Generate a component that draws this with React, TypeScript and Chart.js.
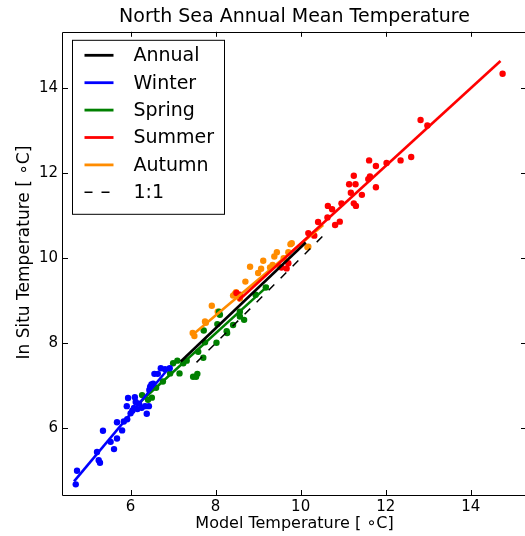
import React, { useEffect, useRef } from "react";
import { Chart, registerables } from "chart.js";

Chart.register(...registerables);

const TITLE = "North Sea Annual Mean Temperature";
const X_LABEL = "Model Temperature [ ∘C]";
const Y_LABEL = "    In Situ Temperature [ ∘C]";
const X_MIN = 4.41;
const X_MAX = 15.3;
const Y_MIN = 4.43;
const Y_MAX = 15.325;
const TICK_VALUES = [6, 8, 10, 12, 14];

const winterPts: number[][] = [
  [4.71, 4.68], [4.74, 5.0], [5.21, 5.44], [5.25, 5.25], [5.28, 5.19], [5.35, 5.94],
  [5.53, 5.68], [5.61, 5.51], [5.68, 5.76], [5.68, 6.14], [5.8, 5.95], [5.84, 6.16],
  [5.92, 6.21], [5.91, 6.52], [5.94, 6.71], [6.0, 6.35], [6.04, 6.41], [6.08, 6.48],
  [6.12, 6.62], [6.16, 6.45], [6.26, 6.48], [6.34, 6.52], [6.43, 6.52], [6.38, 6.34],
  [6.46, 6.98], [6.49, 7.03], [6.44, 6.9], [6.56, 7.28], [6.64, 7.28], [6.71, 7.41],
  [6.81, 7.39], [6.92, 7.41], [6.53, 7.05], [6.1, 6.73], [6.2, 6.58],
];
const springPts: number[][] = [
  [6.27, 6.78], [6.41, 6.67], [6.5, 6.72], [6.76, 7.1], [6.93, 7.29], [7.0, 7.53],
  [7.1, 7.59], [7.15, 7.29], [7.24, 7.53], [7.32, 7.59], [7.47, 7.21], [7.57, 7.28],
  [7.54, 7.21], [7.71, 7.66], [7.59, 7.8], [7.72, 8.3], [7.75, 8.02], [8.02, 8.01],
  [8.04, 8.45], [8.08, 8.74], [8.1, 8.67], [8.27, 8.24], [8.26, 8.28], [8.41, 8.43],
  [8.57, 8.74], [8.57, 8.63], [8.67, 8.55], [8.94, 9.14], [9.18, 9.31], [6.6, 6.95],
];
const summerPts: number[][] = [
  [8.49, 9.18], [8.57, 9.14], [9.55, 9.78], [9.67, 9.76], [9.71, 9.88], [10.18, 10.59],
  [10.32, 10.53], [10.41, 10.85], [10.63, 10.96], [10.64, 11.23], [10.74, 11.15],
  [10.81, 10.78], [10.92, 10.86], [10.96, 11.29], [11.25, 11.94], [11.14, 11.74],
  [11.29, 11.74], [11.18, 11.54], [11.25, 11.29], [11.3, 11.23], [11.44, 11.49],
  [11.59, 11.86], [11.63, 11.92], [11.61, 12.3], [11.77, 11.67], [11.77, 12.17],
  [12.02, 12.24], [12.35, 12.3], [12.6, 12.38], [12.82, 13.25], [12.98, 13.12], [14.75, 14.34],
];
const autumnPts: number[][] = [
  [7.46, 8.24], [7.5, 8.17], [7.75, 8.51], [7.77, 8.48], [7.91, 8.88], [8.05, 8.74],
  [8.41, 9.12], [8.45, 9.16], [8.48, 9.2], [8.57, 9.05], [8.81, 9.8], [9.0, 9.65],
  [9.07, 9.75], [9.12, 9.94], [9.28, 9.78], [9.34, 9.84], [9.38, 10.04], [9.44, 10.14],
  [9.51, 9.8], [9.71, 10.14], [9.76, 10.33], [9.79, 10.35], [10.16, 10.26], [10.18, 10.27],
  [8.7, 9.45], [9.6, 10.0],
];

const annualFit: number[][] = [[7.18, 7.57], [10.12, 10.37]];
const winterFit: number[][] = [[4.67, 4.75], [6.92, 7.44]];
const springFit: number[][] = [[6.25, 6.64], [9.24, 9.36]];
const summerFit: number[][] = [[8.53, 9.0], [14.7, 14.64]];
const autumnFit: number[][] = [[7.46, 8.2], [10.53, 10.78]];
const oneToOne: number[][] = [[7.55, 7.55], [10.6, 10.6]];

const COLORS = {
  annual: "#000000",
  winter: "#0000ff",
  spring: "#008000",
  summer: "#ff0000",
  autumn: "#ff8c00",
};

const FONT = "'DejaVu Sans', sans-serif";

const toXY = (arr: number[][]) => arr.map(([x, y]) => ({ x, y }));

const pointSet = (data: number[][], color: string) => ({
  type: "scatter" as const,
  data: toXY(data),
  showLine: false,
  pointRadius: 3.2,
  pointBorderWidth: 0,
  pointBackgroundColor: color,
  pointBorderColor: color,
  order: 2,
  isLegend: false,
});

const lineSet = (label: string, data: number[][], color: string, dash: number[] = [], width = 2.6) => ({
  type: "line" as const,
  label,
  data: toXY(data),
  showLine: true,
  borderColor: color,
  backgroundColor: color,
  borderWidth: width,
  borderDash: dash,
  pointRadius: 0,
  fill: false,
  order: 1,
  isLegend: true,
});

const framePlugin = {
  id: "frame",
  afterDatasetsDraw(chart: any) {
    const { ctx, chartArea: a, scales } = chart;
    ctx.save();
    ctx.strokeStyle = "#000";
    ctx.lineWidth = 1;
    ctx.beginPath();
    ctx.rect(Math.round(a.left) - 0.5, Math.round(a.top) + 0.5, Math.round(a.right - a.left), Math.round(a.bottom - a.top));
    ctx.stroke();
    const tl = 5;
    ctx.beginPath();
    for (const v of TICK_VALUES) {
      const px = Math.round(scales.x.getPixelForValue(v)) + 0.5;
      ctx.moveTo(px, a.bottom);
      ctx.lineTo(px, a.bottom - tl);
      ctx.moveTo(px, a.top);
      ctx.lineTo(px, a.top + tl);
      const py = Math.round(scales.y.getPixelForValue(v)) + 0.5;
      ctx.moveTo(a.left, py);
      ctx.lineTo(a.left + tl, py);
      ctx.moveTo(a.right, py);
      ctx.lineTo(a.right - tl, py);
    }
    ctx.stroke();

    // legend
    const items = chart.data.datasets.filter((d: any) => d.isLegend);
    const bx = a.left + 9.5;
    const by = a.top + 8.5;
    const bw = 152;
    const bh = 174;
    ctx.fillStyle = "#fff";
    ctx.fillRect(bx, by, bw, bh);
    ctx.strokeStyle = "#000";
    ctx.lineWidth = 1;
    ctx.strokeRect(bx, by, bw, bh);
    ctx.font = `19px ${FONT}`;
    ctx.textBaseline = "middle";
    ctx.textAlign = "left";
    items.forEach((d: any, i: number) => {
      const y = by + 15 + i * 27.4;
      ctx.save();
      ctx.strokeStyle = d.borderColor;
      ctx.lineWidth = d.borderDash && d.borderDash.length ? 1.6 : 2.8;
      ctx.setLineDash(d.borderDash || []);
      ctx.beginPath();
      ctx.moveTo(bx + 12, y);
      ctx.lineTo(bx + 41, y);
      ctx.stroke();
      ctx.restore();
      ctx.fillStyle = "#000";
      ctx.fillText(d.label, bx + 61, y + 1);
    });
    ctx.restore();
  },
};

export default function App() {
  const ref = useRef<HTMLCanvasElement | null>(null);
  useEffect(() => {
    if (!ref.current) return;
    Chart.defaults.color = "#000";
    Chart.defaults.font.family = FONT;
    const chart = new Chart(ref.current, {
      type: "scatter",
      data: {
        datasets: [
          lineSet("Annual", annualFit, COLORS.annual),
          lineSet("Winter", winterFit, COLORS.winter),
          lineSet("Spring", springFit, COLORS.spring),
          lineSet("Summer", summerFit, COLORS.summer),
          lineSet("Autumn", autumnFit, COLORS.autumn),
          lineSet("1:1", oneToOne, "#000000", [8, 9], 1.5),
          pointSet(winterPts, COLORS.winter),
          pointSet(springPts, COLORS.spring),
          pointSet(summerPts, COLORS.summer),
          pointSet(autumnPts, COLORS.autumn),
        ] as any,
      },
      options: {
        animation: false,
        responsive: false,
        layout: { padding: { right: 4, left: 0, bottom: 0, top: 0 } },
        plugins: {
          legend: { display: false },
          tooltip: { enabled: false },
          title: {
            display: true,
            text: TITLE,
            fullSize: false,
            color: "#000",
            font: { size: 19, family: FONT, weight: "normal" },
            padding: { top: 6, bottom: 3 },
          },
        },
        scales: {
          x: {
            type: "linear",
            min: X_MIN,
            max: X_MAX,
            afterFit: (s: any) => {
              s.height = 41;
            },
            grid: { display: false, drawTicks: false },
            border: { display: false },
            afterBuildTicks: (s: any) => {
              s.ticks = TICK_VALUES.map((v) => ({ value: v }));
            },
            ticks: { font: { size: 15, family: FONT }, color: "#000", padding: 3, maxRotation: 0 },
            title: {
              display: true,
              text: X_LABEL,
              color: "#000",
              font: { size: 16, family: FONT },
              padding: { top: 0, bottom: 2.4 },
            },
          },
          y: {
            type: "linear",
            min: Y_MIN,
            max: Y_MAX,
            afterFit: (s: any) => {
              s.width = 63;
            },
            grid: { display: false, drawTicks: false },
            border: { display: false },
            afterBuildTicks: (s: any) => {
              s.ticks = TICK_VALUES.map((v) => ({ value: v }));
            },
            ticks: { font: { size: 15, family: FONT }, color: "#000", padding: 5 },
            title: {
              display: true,
              text: Y_LABEL,
              color: "#000",
              font: { size: 17, family: FONT },
              padding: { top: 14.8, bottom: 0 },
            },
          },
        },
      } as any,
      plugins: [framePlugin],
    });
    return () => chart.destroy();
  }, []);
  return (
    <div
      style={{
        position: "absolute",
        left: 0,
        top: 0,
        width: 525,
        height: 536,
        overflow: "hidden",
        background: "#fff",
      }}
    >
      <canvas ref={ref} width={530} height={536} style={{ display: "block", width: 530, height: 536 }} />
    </div>
  );
}
